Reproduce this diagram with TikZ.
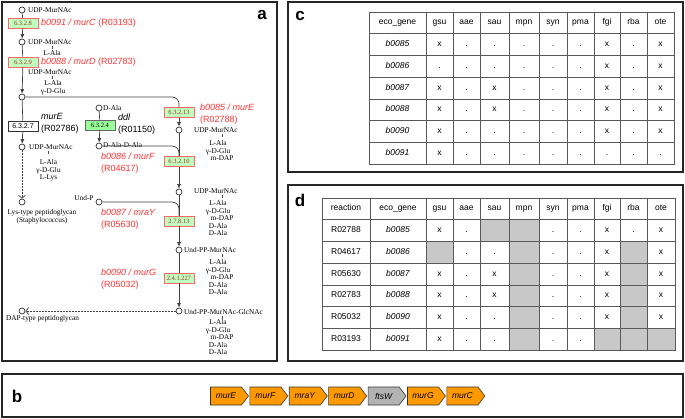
\documentclass[tikz,border=0pt]{standalone}
\usepackage{fontspec}
\setmainfont{Liberation Sans}
\newfontfamily\keggfont{Liberation Serif}
\usetikzlibrary{arrows.meta,shapes.symbols,positioning}
\definecolor{kred}{RGB}{255,51,51}
\definecolor{kgreen}{RGB}{191,255,191}
\definecolor{kbord}{RGB}{255,102,102}
\definecolor{ectext}{RGB}{170,40,40}
\definecolor{orgene}{RGB}{255,153,0}
\definecolor{cellgray}{RGB}{200,200,200}
\begin{document}
\begin{tikzpicture}[x=1pt, y=-1pt,
  pframe/.style={draw=black!85, line width=1.1pt},
  plbl/.style={font=\fontsize{17}{17}\selectfont\bfseries, inner sep=0pt},
  cpd/.style={circle, draw=black!80, fill=white, line width=0.7pt, inner sep=0pt, minimum size=6pt},
  cname/.style={font=\keggfont\fontsize{7.3}{7.6}\selectfont, inner sep=0pt},
  stack/.style={cname, align=center, anchor=north},
  ec/.style={draw=kbord, fill=kgreen, line width=0.6pt, minimum width=30pt, minimum height=10pt, inner sep=0pt, font=\keggfont\fontsize{6.5}{7}\selectfont, text=ectext},
  gene/.style={font=\fontsize{9}{11.5}\selectfont, text=kred, inner sep=0pt, align=left, anchor=west},
  rxn/.style={gene, text=black},
  lnk/.style={draw=black!75, line width=0.7pt},
  flow/.style={lnk, -{Latex[length=4.5pt,width=4pt]}},
  dflow/.style={lnk, dash pattern=on 1.6pt off 1.4pt, -{Straight Barb[length=3pt,width=7pt]}},
  tick/.style={draw=black!70, line width=0.4pt},
  rule/.style={draw=black!65, line width=0.6pt},
  cell/.style={font=\fontsize{8.5}{9}\selectfont, inner sep=0pt, text height=6pt, text depth=1.8pt},
  garrow/.style={signal, signal to=east, signal pointer angle=105, draw=black!80, line width=0.6pt, minimum width=38pt, minimum height=18pt, inner sep=0pt, font=\fontsize{8.5}{10}\selectfont\itshape}]
\useasboundingbox (0,0) rectangle (685,419);

% panel frames
\draw[pframe] (2,2) rectangle (277,361);
\draw[pframe] (288,2) rectangle (683,172);
\draw[pframe] (288,185) rectangle (683,361);
\draw[pframe] (2,374) rectangle (683,417);
\node[plbl] (la) at (262,15) {a};
\node[plbl] (lc) at (300,16) {c};
\node[plbl] (ld) at (300,200) {d};
\node[plbl] (lb) at (17,396) {b};

% panel a: compounds
\node[cpd] (udp1) at (22,10) {};
\node[cpd] (udp2) at (22,42) {};
\node[cpd] (udp3) at (22,97) {};
\node[cpd] (udp4) at (22,147) {};
\node[cpd] (lys) at (22,202) {};
\node[cpd] (dala) at (99,108) {};
\node[cpd] (dala2) at (99,146) {};
\node[cpd] (undp) at (99,202) {};
\node[cpd] (udpR1) at (179,130) {};
\node[cpd] (udpR2) at (179,192) {};
\node[cpd] (undpp) at (179,250) {};
\node[cpd] (glcnac) at (179,311) {};
\node[cpd] (dap) at (22,311) {};

\node[cname,anchor=west] (t1) at (28,10) {UDP-MurNAc};
\node[cname,anchor=west] (t2) at (28,42) {UDP-MurNAc};
\node[stack] (s2) at (52,50) {L-Ala};
\node[cname,anchor=west] (t3) at (28,72) {UDP-MurNAc};
\node[stack] (s3) at (53,80.5) {L-Ala\\γ-D-Glu\hspace{4pt}};
\node[cname,anchor=west] (t4) at (29,147) {UDP-MurNAc};
\node[stack] (s4) at (48.5,159.5) {L-Ala\\γ-D-Glu\\L-Lys};
\node[cname,align=center] (t5) at (42,216.5) {Lys-type peptidoglycan\\(Staphylococcus)};
\node[cname,anchor=west] (t6) at (103,108) {D-Ala};
\node[cname,anchor=west] (t7) at (103,145) {D-Ala-D-Ala};
\node[cname] (t8) at (84,198) {Und-P};
\node[cname,anchor=west] (t9) at (194,130) {UDP-MurNAc};
\node[stack] (s9) at (218,140.3) {L-Ala\\γ-D-Glu\hspace{6pt}\\\hspace{8pt}m-DAP};
\node[cname,anchor=west] (t10) at (194,191.5) {UDP-MurNAc};
\node[stack] (s10) at (218,200.3) {L-Ala\\γ-D-Glu\hspace{6pt}\\\hspace{8pt}m-DAP\\D-Ala\\D-Ala};
\node[cname,anchor=west] (t11) at (184,250) {Und-PP-MurNAc};
\node[stack] (s11) at (218,259.3) {L-Ala\\γ-D-Glu\hspace{6pt}\\\hspace{8pt}m-DAP\\D-Ala\\D-Ala};
\node[cname,anchor=west] (t12) at (184,312) {Und-PP-MurNAc-GlcNAc};
\node[stack] (s12) at (218,319.3) {L-Ala\\γ-D-Glu\hspace{6pt}\\\hspace{8pt}m-DAP\\D-Ala\\D-Ala};
\node[cname,anchor=west] (t13) at (6,319) {DAP-type peptidoglycan};
\foreach \x/\y in {52/46,52/76,48/151,222/134,222/195,222/254,222/316}
  \draw[tick] (\x,\y) -- (\x,\y+3.5);

% panel a: enzymes
\node[ec] (ec1) at (23,23) {6.3.2.8};
\node[ec] (ec2) at (23,62) {6.3.2.9};
\node[ec, draw=black!80, fill=white, text=black, font=\fontsize{7}{8}\selectfont] (ec3) at (23,126) {6.3.2.7};
\node[ec, draw=black!60, fill=kgreen!80!green, text=black] (ec4) at (100,125) {6.3.2.4};
\node[ec] (ec5) at (179,112.5) {6.3.2.13};
\node[ec] (ec6) at (179,161.5) {6.3.2.10};
\node[ec] (ec7) at (179,221) {2.7.8.13};
\node[ec] (ec8) at (179,278) {2.4.1.227};

\node[gene] (g1) at (41,23) {\textit{b0091 / murC} (R03193)};
\node[gene] (g2) at (41,62) {\textit{b0088 / murD} (R02783)};
\node[rxn] (g3) at (41,123.5) {\textit{murE}\\(R02786)};
\node[rxn] (g4) at (118,124) {\textit{ddl}\\(R01150)};
\node[gene] (g5) at (200,114) {\textit{b0085 / murE}\\(R02788)};
\node[gene] (g6) at (101,163) {\textit{b0086 / murF}\\(R04617)};
\node[gene] (g7) at (101,219) {\textit{b0087 / mraY}\\(R05630)};
\node[gene] (g8) at (101,279) {\textit{b0090 / murG}\\(R05032)};

% panel a: reactions
\draw[lnk] (udp1) -- (ec1);
\draw[flow] (ec1) -- (udp2);
\draw[lnk] (udp2) -- (ec2);
\draw[flow] (ec2) -- (udp3);
\draw[lnk] (udp3) -- (ec3);
\draw[flow] (ec3) -- (udp4);
\draw[dflow] (udp4) -- (lys);
\draw[lnk] (dala) -- (ec4);
\draw[flow] (ec4) -- (dala2);
\draw[lnk, rounded corners=7pt] (udp3) -| (ec5);
\draw[flow] (ec5) -- (udpR1);
\draw[lnk] (udpR1) -- (ec6);
\draw[lnk, rounded corners=7pt] (dala2) -| (ec6);
\draw[flow] (ec6) -- (udpR2);
\draw[lnk] (udpR2) -- (ec7);
\draw[lnk, rounded corners=7pt] (undp) -| (ec7);
\draw[flow] (ec7) -- (undpp);
\draw[lnk] (undpp) -- (ec8);
\draw[flow] (ec8) -- (glcnac);
\draw[dflow] (glcnac) -- (dap);

% panel b: operon
\foreach \g/\c [count=\i] in {murE/orgene,murF/orgene,mraY/orgene,murD/orgene,ftsW/black!30,murG/orgene,murC/orgene}
  \node[garrow, fill=\c] (op\i) at ({226+(\i-1)*39.4},396) {\g};

% panel c: gene table
\def\bndC{{369,426,453,480,509,539,567,594,620,647,674}}
\foreach \x in {426,453,480,509,539,567,594,620,647} \draw[rule] (\x,12) -- (\x,164);
\foreach \r in {1,...,6} \draw[rule] (369,{12+21.714*\r}) -- (674,{12+21.714*\r});
\draw[rule] (369,12) rectangle (674,164);
\foreach \row [count=\r from 0] in {{eco\_gene,gsu,aae,sau,mpn,syn,pma,fgi,rba,ote},
  {\textit{b0085},x,.,.,.,.,.,x,.,x},{\textit{b0086},.,.,.,.,.,.,x,.,x},
  {\textit{b0087},x,.,x,.,.,.,x,.,x},{\textit{b0088},x,.,x,.,.,.,x,.,x},
  {\textit{b0090},x,.,.,.,.,.,x,.,x},{\textit{b0091},x,.,.,.,.,.,.,.,.}}{
  \foreach \v [count=\k] in \row {
    \pgfmathtruncatemacro\kk{\k-1}
    \pgfmathsetmacro\xa{\bndC[\kk]}
    \pgfmathsetmacro\xb{\bndC[\k]}
    \node[cell] (c\r-\k) at ({(\xa+\xb)/2},{12+21.714*(\r+0.5)}) {\v};
  }
}

% panel d: reaction table
\def\bndD{{322,370,426,453,480,509,539,567,594,620,647,675}}
\foreach \r/\k in {1/5,1/6,2/3,2/6,2/10,3/6,3/10,4/6,4/10,5/6,5/10,6/6,6/9,6/10,6/11}{
  \pgfmathtruncatemacro\kk{\k-1}
  \pgfmathsetmacro\xl{\bndD[\kk]}
  \pgfmathsetmacro\xr{\bndD[\k]}
  \fill[cellgray] (\xl,{198+21.714*\r}) rectangle (\xr,{198+21.714*(\r+1)});
}
\foreach \x in {370,426,453,480,509,539,567,594,620,647} \draw[rule] (\x,198) -- (\x,350);
\foreach \r in {1,...,6} \draw[rule] (322,{198+21.714*\r}) -- (675,{198+21.714*\r});
\draw[rule] (322,198) rectangle (675,350);
\foreach \row [count=\r from 0] in {{reaction,eco\_gene,gsu,aae,sau,mpn,syn,pma,fgi,rba,ote},
  {R02788,\textit{b0085},x,.,{},{},.,.,x,.,x},{R04617,\textit{b0086},{},.,.,{},.,.,x,{},x},
  {R05630,\textit{b0087},x,.,x,{},.,.,x,{},x},{R02783,\textit{b0088},x,.,x,{},.,.,x,{},x},
  {R05032,\textit{b0090},x,.,.,{},.,.,x,{},x},{R03193,\textit{b0091},x,.,.,{},.,.,{},{},{}}}{
  \foreach \v [count=\k] in \row {
    \pgfmathtruncatemacro\kk{\k-1}
    \pgfmathsetmacro\xa{\bndD[\kk]}
    \pgfmathsetmacro\xb{\bndD[\k]}
    \node[cell] (d\r-\k) at ({(\xa+\xb)/2},{198+21.714*(\r+0.5)}) {\v};
  }
}
\end{tikzpicture}
\end{document}
